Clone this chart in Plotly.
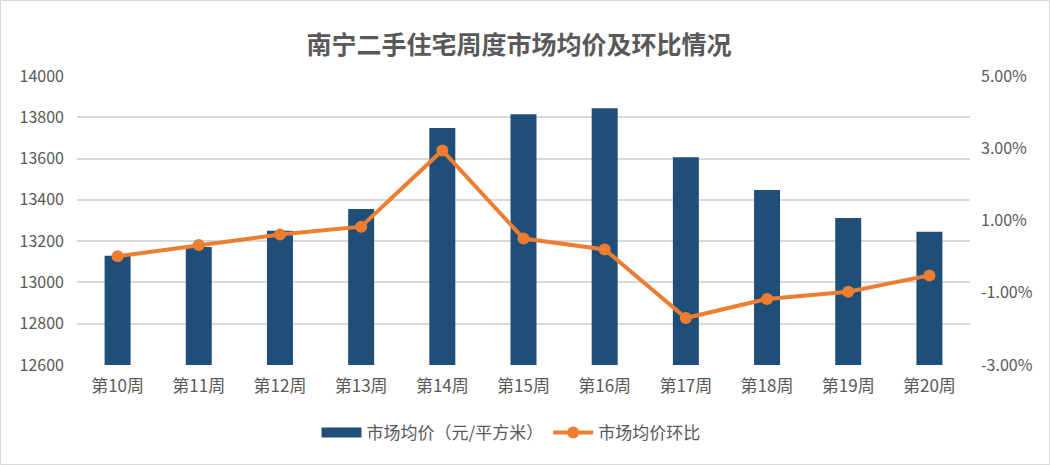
import plotly.graph_objects as go

weeks = ["第10周", "第11周", "第12周", "第13周", "第14周", "第15周", "第16周", "第17周", "第18周", "第19周", "第20周"]
avg_price = [13129, 13172, 13250, 13356, 13748, 13815, 13844, 13607, 13448, 13312, 13245]
mom_pct = [0.01, 0.32, 0.61, 0.83, 2.94, 0.50, 0.20, -1.70, -1.17, -0.97, -0.52]
price_ticks = [12600, 12800, 13000, 13200, 13400, 13600, 13800, 14000]
pct_ticks = [-3, -1, 1, 3, 5]

W, H = 1050, 465
L, R, T, B = 77, 80, 76, 100
pw, ph = W - L - R, H - T - B

font = "Noto Sans CJK SC, Microsoft YaHei, sans-serif"
grey = "#595959"
bar_color = "#1F4E79"
line_color = "#ED7D31"

fig = go.Figure()
fig.add_trace(go.Bar(
    x=weeks, y=avg_price, name="市场均价（元/平方米）", showlegend=False,
    marker=dict(color=bar_color, line=dict(width=0)), width=0.32,
))
# legend-only entry to draw a wide rectangular swatch like the reference
fig.add_trace(go.Scatter(
    x=[None], y=[None], name="市场均价（元/平方米）", mode="lines",
    line=dict(color=bar_color, width=12),
))
fig.add_trace(go.Scatter(
    x=weeks, y=mom_pct, name="市场均价环比", yaxis="y2", mode="lines+markers",
    line=dict(color=line_color, width=4), marker=dict(color=line_color, size=12),
))

fig.update_layout(
    width=W, height=H,
    margin=dict(l=L, r=R, t=T, b=B, autoexpand=False),
    paper_bgcolor="white", plot_bgcolor="white",
    font=dict(family=font, color=grey, size=16),
    title=dict(text="<b>南宁二手住宅周度市场均价及环比情况</b>", x=(519 - L) / pw, xref="paper", xanchor="center",
               y=1 - 45 / H, yanchor="middle", font=dict(size=25, color=grey, family=font)),
    xaxis=dict(range=[-0.5, len(weeks) - 0.5], showgrid=False, showline=False, ticks="",
               tickfont=dict(size=17, color=grey), ticklabelstandoff=9),
    yaxis=dict(range=[12600, 14000], tickmode="array", tickvals=price_ticks,
               ticktext=[str(v) for v in price_ticks],
               showgrid=True, gridcolor="#D9D9D9", gridwidth=2,
               zeroline=False, showline=False, tickfont=dict(size=16, color=grey), ticks="", ticklabelstandoff=12),
    yaxis2=dict(range=[-3, 5], tickmode="array", tickvals=pct_ticks,
                ticktext=[f"{v:.2f}%" for v in pct_ticks], overlaying="y", side="right", showgrid=False,
                zeroline=False, tickfont=dict(size=16, color=grey), ticks="", ticklabelstandoff=10),
    legend=dict(orientation="h", x=(511 - L) / pw, xanchor="center", y=-(433 - T - ph) / ph, yanchor="middle",
                font=dict(size=17, color=grey), traceorder="normal", itemwidth=40),
    showlegend=True,
    shapes=[dict(type="rect", xref="paper", yref="paper",
                 x0=(0.5 - L) / pw, x1=(W - 0.5 - L) / pw,
                 y0=-(H - 0.5 - T - ph) / ph, y1=1 + (T - 0.5) / ph,
                 line=dict(color="#D9D9D9", width=1), fillcolor="rgba(0,0,0,0)", layer="below")],
)

fig.write_html("out.html", config={"displayModeBar": False},
               post_script="document.body.style.margin='0';document.body.style.overflow='hidden';")
